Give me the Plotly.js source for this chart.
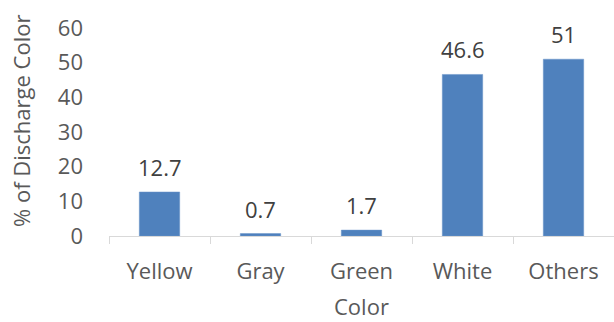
<!DOCTYPE html>
<html>
<head>
<meta charset="utf-8">
<script src="https://cdn.plot.ly/plotly-3.0.1.min.js"></script>
<style>
  html, body { margin: 0; padding: 0; background: #fff; }
  #chart { width: 614px; height: 322px; }
</style>
</head>
<body>
<div id="chart"></div>
<script>
// Share of discharge colour by category
const categories = ["Yellow", "Gray", "Green", "White", "Others"];
const percentages = [12.7, 0.7, 1.7, 46.6, 51];
const yTicks = [0, 10, 20, 30, 40, 50, 60];

const FONT = "Open Sans, sans-serif";
const SIZE = 22;
const BAR_COLOR = "#4f81bd";
const AXIS_TEXT = "#595959";

const bars = {
  type: "bar",
  x: categories,
  y: percentages,
  width: 0.4,
  marker: { color: BAR_COLOR, line: { color: "#6a94c8", width: 0.5 } },
  hoverinfo: "skip"
};

// Value labels sitting above each bar
const valueLabels = categories.map((c, i) => ({
  x: c,
  y: percentages[i],
  xref: "x",
  yref: "y",
  text: String(percentages[i]),
  showarrow: false,
  yanchor: "middle",
  yshift: 25,
  font: { family: FONT, size: SIZE, color: "#404040" }
}));

// Axis titles placed as annotations so they can sit close to the page edges
const axisTitles = [
  {
    xref: "paper", yref: "paper",
    x: 0.5, y: 0,
    xanchor: "center", yanchor: "bottom",
    yshift: -86,
    borderpad: 0,
    text: "Color",
    showarrow: false,
    font: { family: FONT, size: SIZE, color: AXIS_TEXT }
  },
  {
    xref: "paper", yref: "paper",
    x: 0, y: 0.553,
    xanchor: "center", yanchor: "middle",
    xshift: -88,
    text: "% of Discharge Color",
    textangle: -90,
    showarrow: false,
    font: { family: FONT, size: SIZE, color: AXIS_TEXT }
  }
];

const layout = {
  width: 614,
  height: 322,
  margin: { l: 109, r: 0, t: 28, b: 86 },
  paper_bgcolor: "#fff",
  plot_bgcolor: "#fff",
  showlegend: false,
  font: { family: FONT, size: SIZE, color: AXIS_TEXT },
  xaxis: {
    type: "category",
    tickson: "boundaries",
    ticks: "outside",
    ticklen: 7,
    tickcolor: "#d9d9d9",
    tickwidth: 1,
    showline: true,
    linecolor: "#d9d9d9",
    linewidth: 1,
    showgrid: false,
    zeroline: false,
    ticklabelstandoff: 16,
    title: { text: "" }
  },
  yaxis: {
    range: [0, 60],
    tickvals: yTicks,
    ticks: "",
    showgrid: false,
    zeroline: false,
    showline: false,
    ticklabelstandoff: 25,
    title: { text: "" }
  },
  annotations: valueLabels.concat(axisTitles)
};

Plotly.newPlot("chart", [bars], layout, { displayModeBar: false, staticPlot: true });
</script>
</body>
</html>
